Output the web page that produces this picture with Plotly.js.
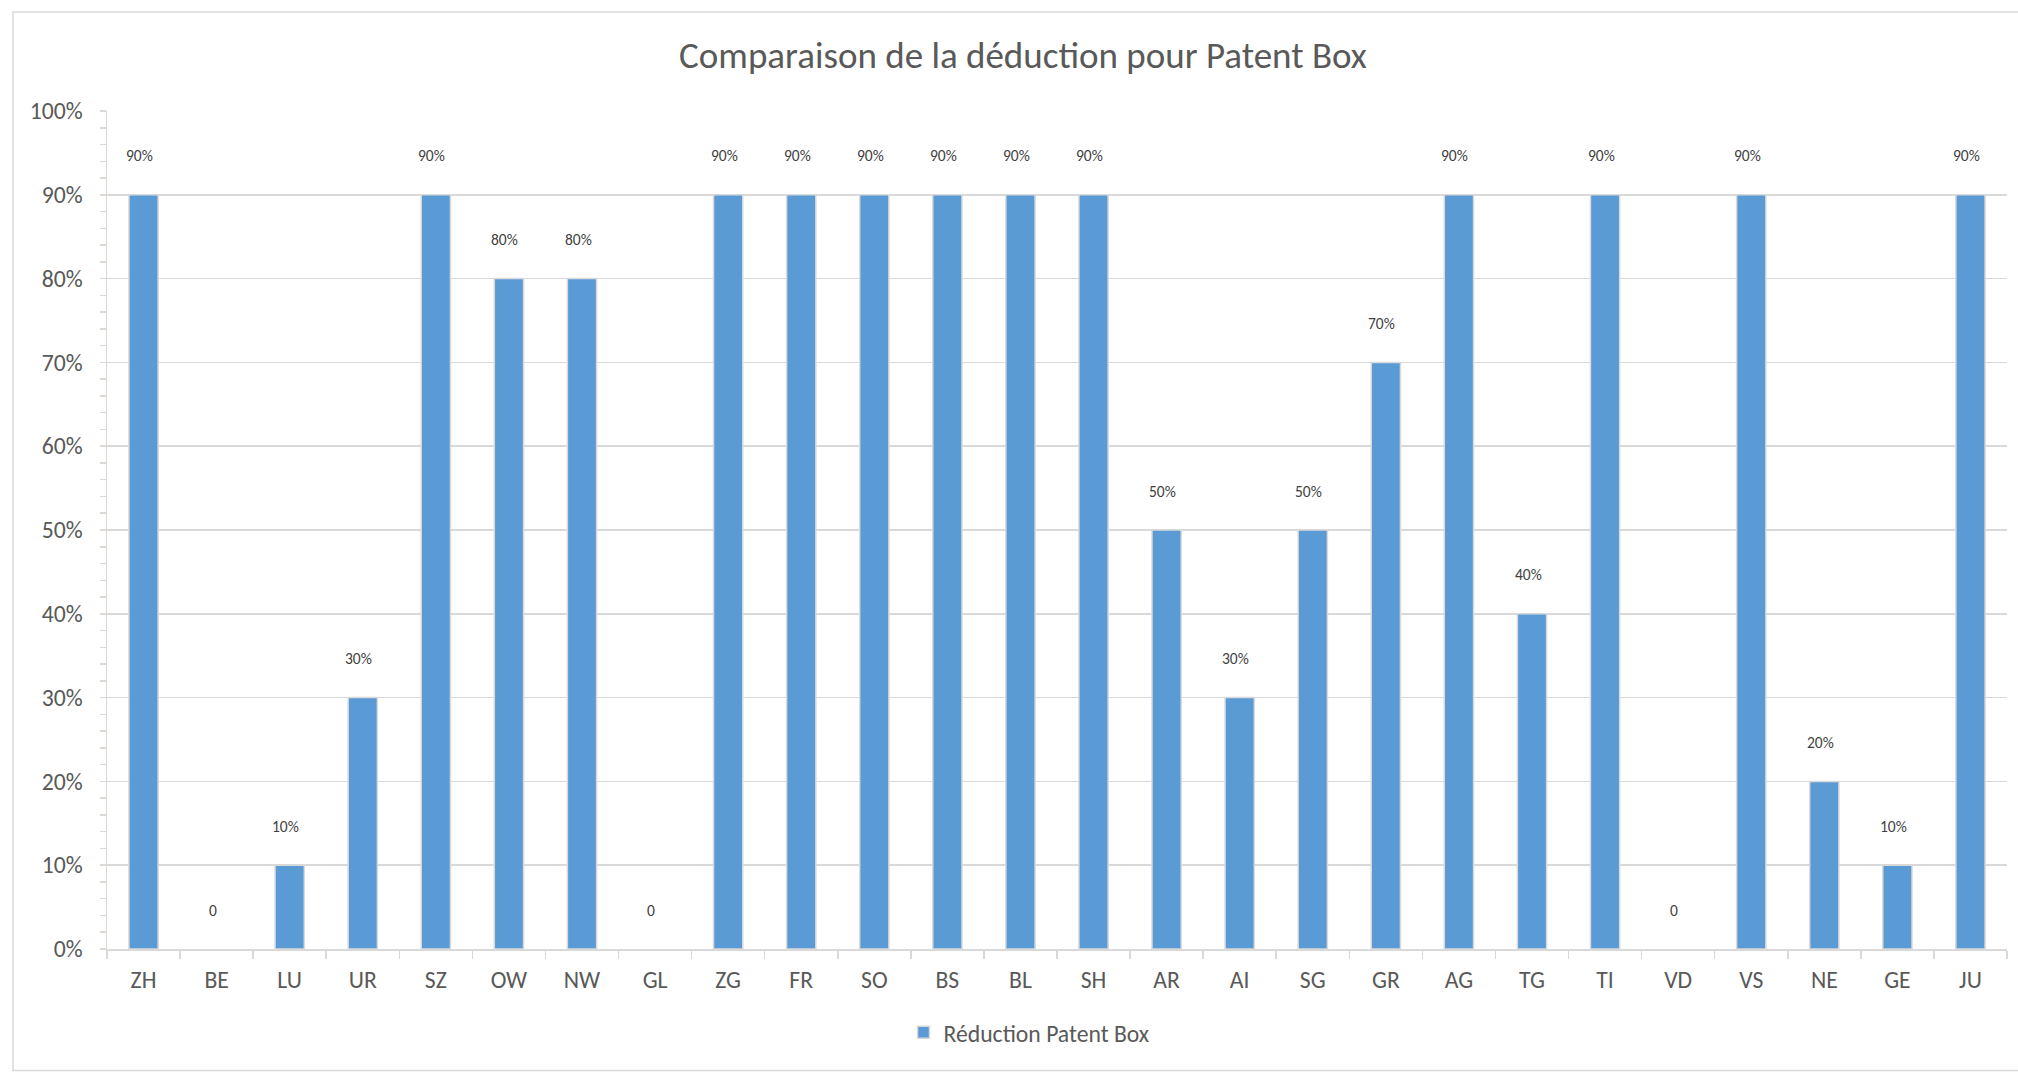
<!DOCTYPE html>
<html>
<head>
<meta charset="utf-8">
<script src="https://cdn.plot.ly/plotly-3.0.1.min.js"></script>
<style>
  html, body { margin: 0; padding: 0; background: #ffffff; }
  #chart { width: 2018px; height: 1073px; }
</style>
</head>
<body>
<div id="chart"></div>
<script>
// ---- Data ----
const cantons = ["ZH","BE","LU","UR","SZ","OW","NW","GL","ZG","FR","SO","BS","BL","SH","AR","AI","SG","GR","AG","TG","TI","VD","VS","NE","GE","JU"];
const deduction = [0.90,0,0.10,0.30,0.90,0.80,0.80,0,0.90,0.90,0.90,0.90,0.90,0.90,0.50,0.30,0.50,0.70,0.90,0.40,0.90,0,0.90,0.20,0.10,0.90];
const dataLabels = ["90%","0","10%","30%","90%","80%","80%","0","90%","90%","90%","90%","90%","90%","50%","30%","50%","70%","90%","40%","90%","0","90%","20%","10%","90%"];
const seriesName = "Réduction Patent Box";
const chartTitle = "Comparaison de la déduction pour Patent Box";

const FONT = "Carlito, Calibri, Lato, sans-serif";
const W = 2018, H = 1073;
const L = 107, R = 11, T = 111, B = 123.5;
const plotW = W - L - R, plotH = H - T - B;
const px = (x) => (x - L) / plotW;
const py = (y) => (H - B - y) / plotH;

const trace = {
  type: "bar",
  x: cantons,
  y: deduction,
  name: seriesName,
  marker: {
    color: "#5b9bd5",
    line: { color: "#d9d9d9", width: deduction.map(v => (v > 0 ? 1.5 : 0)) }
  },
  hoverinfo: "x+y"
};

const annotations = cantons.map((c, i) => ({
  x: c, y: deduction[i], xref: "x", yref: "y",
  text: dataLabels[i], showarrow: false,
  xanchor: "center", yanchor: "middle",
  yshift: 39, xshift: -4,
  font: { family: FONT, size: 15.5, color: "#404040" }
}));

const layout = {
  width: W, height: H,
  margin: { l: L, r: R, t: T, b: B, pad: 0 },
  paper_bgcolor: "#ffffff",
  plot_bgcolor: "#ffffff",
  font: { family: FONT, color: "#595959" },
  title: {
    text: chartTitle,
    font: { family: FONT, size: 37, color: "#595959" },
    x: 1023 / W, xref: "container", xanchor: "center",
    y: 1 - 55 / H, yref: "container", yanchor: "middle"
  },
  bargap: 0.6,
  showlegend: true,
  legend: {
    orientation: "h",
    x: px(1029), y: py(1033), xanchor: "center", yanchor: "middle",
    font: { family: FONT, size: 23.7, color: "#595959" },
    bgcolor: "rgba(0,0,0,0)"
  },
  xaxis: {
    type: "category",
    showline: true, linecolor: "#d9d9d9", linewidth: 1.5,
    ticks: "outside", tickson: "boundaries", ticklen: 8, tickcolor: "#d9d9d9", tickwidth: 1.5,
    tickfont: { family: FONT, size: 23.7, color: "#595959" },
    showgrid: false, zeroline: false,
    ticklabelstandoff: 9
  },
  yaxis: {
    range: [0, 1], dtick: 0.1, tick0: 0, tickformat: ".0%",
    showline: true, linecolor: "#ddd8d2", linewidth: 1.5,
    ticks: "outside", ticklen: 6, tickcolor: "#ddd8d2", tickwidth: 1.5,
    minor: { dtick: 0.02, ticks: "outside", ticklen: 6, tickcolor: "#ddd8d2", tickwidth: 1.5, showgrid: false },
    gridcolor: "#d9d9d9", gridwidth: 1.5,
    zeroline: false,
    tickfont: { family: FONT, size: 23.7, color: "#595959" },
    ticklabelstandoff: 12
  },
  shapes: [{
    type: "rect", xref: "paper", yref: "paper",
    x0: px(13), x1: px(2030), y0: py(1071), y1: py(12),
    line: { color: "#d9d9d9", width: 1.5 }, fillcolor: "rgba(0,0,0,0)", layer: "below"
  }],
  annotations: annotations
};

Plotly.newPlot("chart", [trace], layout, { displayModeBar: false, staticPlot: true });
</script>
</body>
</html>
